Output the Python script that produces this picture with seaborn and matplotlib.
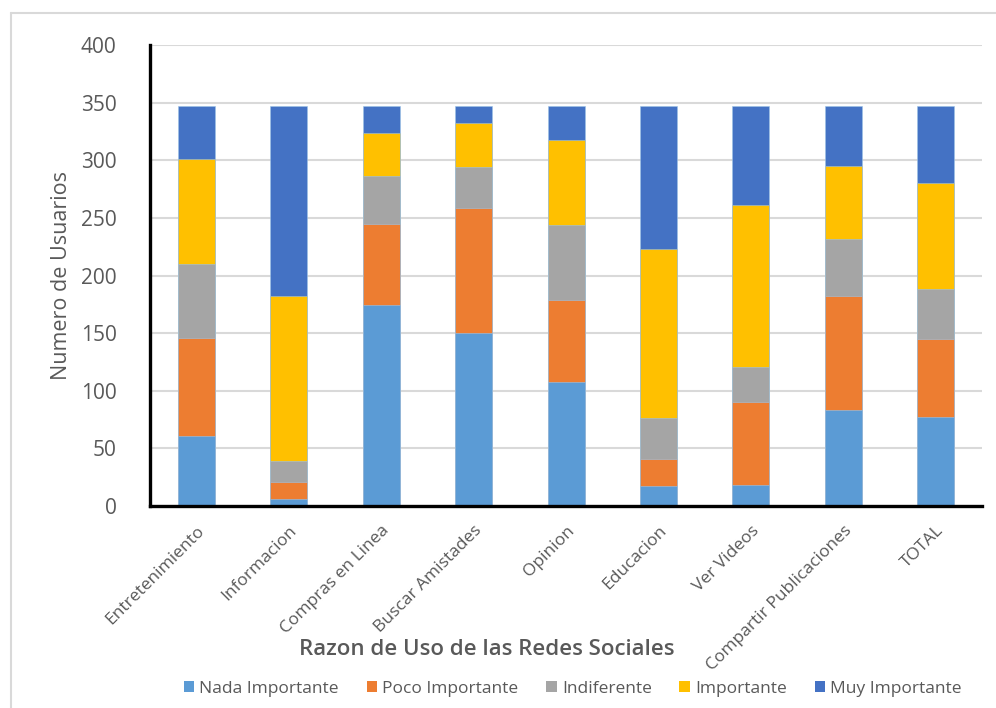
import numpy as np
import pandas as pd
import matplotlib
matplotlib.use("Agg")
import matplotlib.pyplot as plt
from matplotlib.patches import Patch
from matplotlib.lines import Line2D
import seaborn as sns

categorias = ["Entretenimiento", "Informacion", "Compras en Linea", "Buscar Amistades",
              "Opinion", "Educacion", "Ver Videos", "Compartir Publicaciones", "TOTAL"]
series = ["Nada Importante", "Poco Importante", "Indiferente", "Importante", "Muy Importante"]

nada_importante = [61, 6, 174, 150, 108, 17, 18, 83, 77]
poco_importante = [85, 15, 71, 109, 71, 24, 72, 99, 68]
indiferente = [64, 18, 41, 35, 65, 35, 31, 50, 43]
importante = [91, 143, 38, 38, 74, 147, 140, 63, 92]
muy_importante = [46, 165, 23, 15, 29, 124, 86, 52, 67]

colores = ["#5B9BD5", "#ED7D31", "#A5A5A5", "#FFC000", "#4472C4"]

sns.set_theme(style="white")
plt.rcParams["font.family"] = ["Open Sans", "DejaVu Sans"]

valores = np.array([nada_importante, poco_importante, indiferente, importante, muy_importante])
acumulado = valores.cumsum(axis=0)

df = pd.DataFrame({
    "categoria": np.tile(categorias, len(series)),
    "serie": np.repeat(series, len(categorias)),
    "acumulado": acumulado.ravel(),
})

fig = plt.figure(figsize=(9.96, 7.08), dpi=100)
ax = fig.add_axes([0.1506, 0.2853, 0.8354, 0.6511])

# stacked bars: draw cumulative totals from the top layer down
for nombre, color in reversed(list(zip(series, colores))):
    sub = df[df["serie"] == nombre]
    sns.barplot(data=sub, x="categoria", y="acumulado", color=color, width=0.40,
                order=categorias, ax=ax, saturation=1, edgecolor="#9DC3E6", linewidth=0.4,
                zorder=3)

ax.set_ylim(0, 400)
ax.set_xlim(-0.5, 8.5)
ax.set_yticks(np.arange(0, 401, 50))
ax.yaxis.grid(True, color="#D9D9D9", linewidth=1.5, zorder=0)
ax.set_axisbelow(True)

for s in ["top", "right"]:
    ax.spines[s].set_visible(False)
for s in ["left", "bottom"]:
    ax.spines[s].set_color("black")
    ax.spines[s].set_linewidth(2.4)
    ax.spines[s].set_zorder(5)

ax.tick_params(axis="both", length=0)
ax.tick_params(axis="y", labelsize=15, labelcolor="#595959", pad=24)
ax.set_xticks(range(len(categorias)))
ax.set_xticklabels(categorias, rotation=45, ha="right", rotation_mode="anchor",
                   fontsize=12.5, color="#595959")
ax.tick_params(axis="x", pad=12)

ax.set_ylabel("Numero de Usuarios", fontsize=15.5, color="#595959", labelpad=6)
ax.set_xlabel("")
fig.text(0.489, 0.082, "Razon de Uso de las Redes Sociales", ha="center", va="center",
         fontsize=16, color="#595959", fontweight="semibold")

handles = [Patch(facecolor=c, edgecolor="none", label=n) for n, c in zip(series, colores)]
fig.legend(handles=handles, loc="center", bbox_to_anchor=(0.575, 0.027), ncol=5,
           frameon=False, fontsize=12.5, handlelength=0.6, handleheight=0.6,
           handletextpad=0.3, columnspacing=1.6, labelcolor="#595959")

# chart area border
fig.add_artist(Line2D([0.0115, 0.0115], [0.0, 0.982], transform=fig.transFigure,
                      color="#D9D9D9", linewidth=1.5))
fig.add_artist(Line2D([0.0115, 1.0], [0.982, 0.982], transform=fig.transFigure,
                      color="#D9D9D9", linewidth=1.5))

fig.savefig("out.png", dpi=100)
